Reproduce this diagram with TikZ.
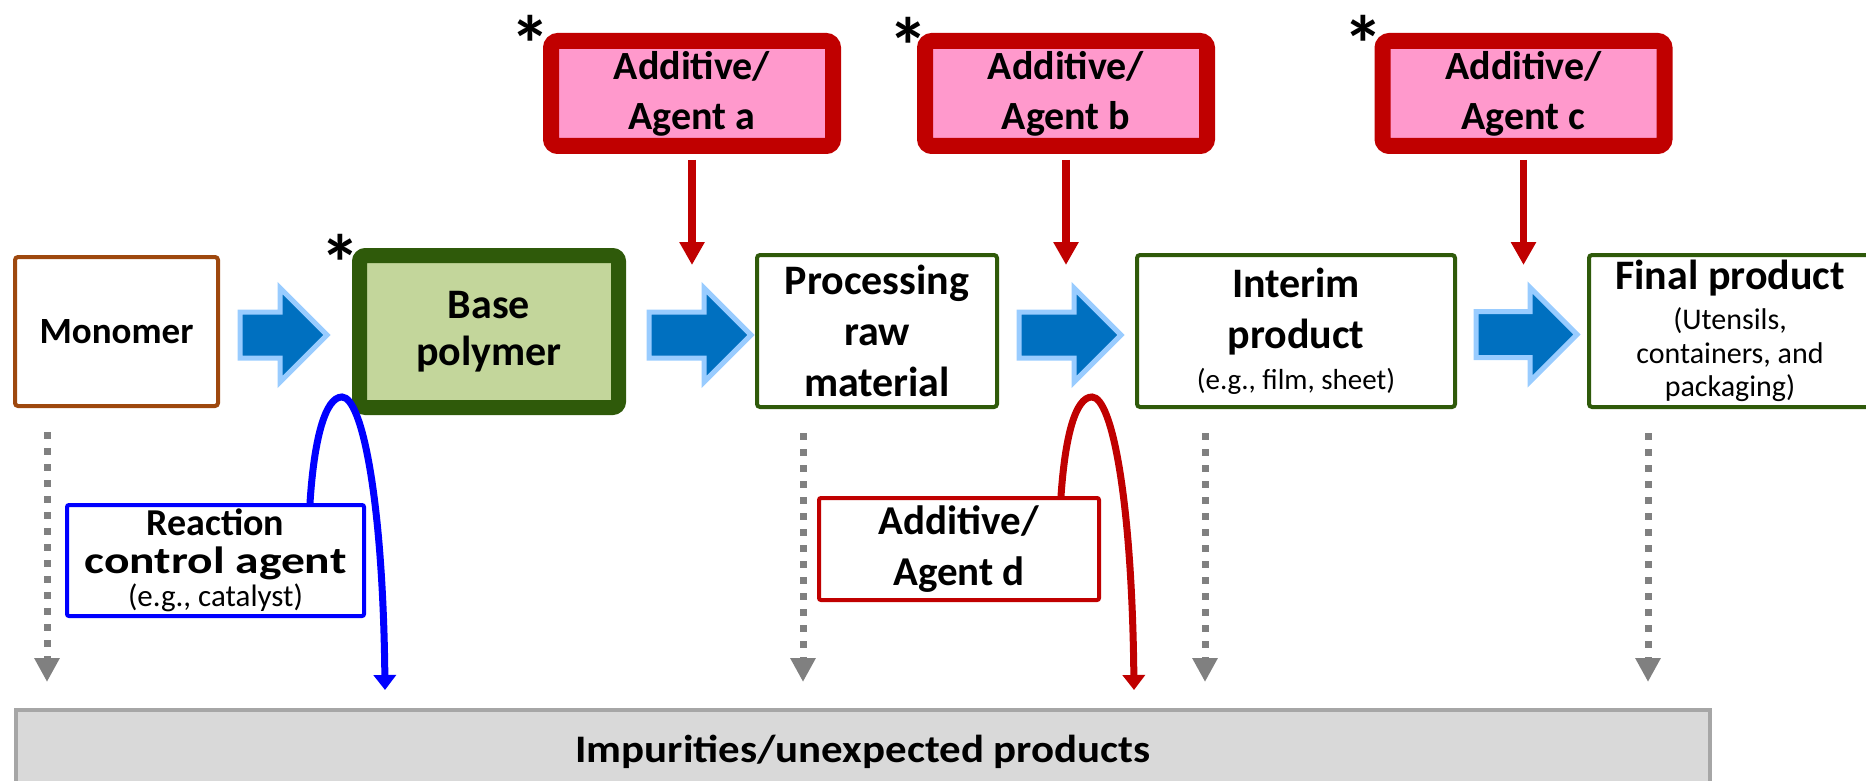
\documentclass[tikz,border=0pt]{standalone}
\usepackage{fontspec}
\setmainfont{Carlito}
\newfontfamily\widefont{Carlito}[FakeStretch=1.25]
\newfontfamily\impfont{Carlito}[FakeStretch=1.1]
\usetikzlibrary{arrows.meta,shapes.arrows}

\definecolor{monobrown}{HTML}{9E480E}
\definecolor{stagegreen}{HTML}{2F5A0A}
\definecolor{polyfill}{HTML}{C3D69B}
\definecolor{addred}{HTML}{C00000}
\definecolor{addpink}{HTML}{FF99CC}
\definecolor{flowblue}{HTML}{0070C0}
\definecolor{flowedge}{HTML}{99CCFF}
\definecolor{catblue}{HTML}{0000FF}
\definecolor{leakgray}{HTML}{808080}
\definecolor{impfill}{HTML}{D9D9D9}
\definecolor{impedge}{HTML}{A6A6A6}

\newcommand\notefont[1]{\mdseries\fontsize{#1}{#1}\selectfont}

\tikzset{
    stage/.style={draw=stagegreen, line width=4pt, rounded corners=3pt, inner sep=0pt,
        align=center, font=\bfseries\fontsize{42}{51}\selectfont},
    additive/.style={draw=addred, fill=addpink, line width=16pt, rounded corners=7pt,
        inner sep=0pt, minimum width=282pt, minimum height=105pt, align=center,
        font=\bfseries\fontsize{40}{50}\selectfont},
    sidebox/.style={line width=4pt, rounded corners=2pt, inner sep=0pt, align=center},
    blockarrow/.style={single arrow, fill=flowblue, draw=flowedge, line width=5pt,
        single arrow head extend=24pt, inner xsep=0pt, inner ysep=20.5pt,
        minimum width=0pt, anchor=tail},
    feed/.style={addred, line width=7.5pt, shorten <=6pt, -{Triangle[width=24pt,length=23pt]}},
    leak/.style={leakgray, line width=7pt, dash pattern=on 7pt off 9pt,
        shorten <=24pt, shorten >=26pt, -{Triangle[width=24pt,length=24pt]}},
    loopline/.style={line width=7pt, -{Triangle[width=22pt,length=15pt]}},
    asttext/.style={font=\bfseries\fontsize{80}{80}\selectfont, inner sep=0pt, anchor=base}
}

\begin{document}
\begin{tikzpicture}[x=1pt,y=-1pt]
    \useasboundingbox (0,0) rectangle (1866,781);

    \node[stage, draw=monobrown, minimum width=203pt, minimum height=149pt,
        font=\bfseries\fontsize{37}{44}\selectfont] (mono) at (116.5,331.5) {Monomer};
    \node[stage, fill=polyfill, line width=15pt, rounded corners=6pt,
        minimum width=259pt, minimum height=152pt] (base) at (489,331.5) {Base\\[-4pt]polymer};
    \node[stage, minimum width=240pt, minimum height=152pt] (proc) at (877,331) {Processing\\raw\\material};
    \node[stage, minimum width=318pt, minimum height=152pt] (inter) at (1296,331)
        {Interim\\product\\[-10pt]{\notefont{29}(e.g., film, sheet)}};
    \node[stage, minimum width=282pt, minimum height=152pt] (final) at (1730,331)
        {Final product\\[-11pt]{\notefont{30}(Utensils,}\\[-17pt]{\notefont{30}containers, and}\\[-18pt]{\notefont{30}packaging)}};

    \node[blockarrow, minimum height=87pt] (ar1) at (237.5,335) {};
    \node[blockarrow, minimum height=102pt] (ar2) at (646.5,335) {};
    \node[blockarrow, minimum height=102pt] (ar3) at (1016.5,335) {};
    \node[blockarrow, minimum height=101pt] (ar4) at (1473.5,334.5) {};

    \node[additive] (adda) at (692,93.5) {Additive/\\Agent a};
    \node[additive] (addb) at (1066,93.5) {Additive/\\Agent b};
    \node[additive] (addc) at (1523.5,93.5) {Additive/\\Agent c};

    \node[asttext] (s0) at (340,291) {*};
    \node[asttext] (s1) at (530,73) {*};
    \node[asttext] (s2) at (908,75) {*};
    \node[asttext] (s3) at (1363,73) {*};

    \coordinate (ta) at (692,265);
    \coordinate (tb) at (1066,265);
    \coordinate (tc) at (1523.5,265);
    \draw[feed] (adda.south) -- (ta);
    \draw[feed] (addb.south) -- (tb);
    \draw[feed] (addc.south) -- (tc);

    \node[sidebox, draw=catblue, minimum width=297pt, minimum height=111pt,
        font=\bfseries\fontsize{38}{38}\selectfont] (rca) at (215.5,560.5)
        {Reaction\\{\widefont control agent}\\[-5pt]{\notefont{31}(e.g., catalyst)}};
    \node[sidebox, draw=addred, minimum width=280pt, minimum height=102pt,
        font=\bfseries\fontsize{41}{51}\selectfont] (addd) at (959,549) {Additive/\\Agent d};

    \node[draw=impedge, fill=impfill, line width=4pt, inner sep=0pt,
        minimum width=1694pt, minimum height=84pt,
        font=\impfont\bfseries\fontsize{39}{46}\selectfont] (imp) at (863,752) {Impurities/unexpected products};

    \coordinate (g1) at (47,0);
    \coordinate (g2) at (803,0);
    \coordinate (g3) at (1205,0);
    \coordinate (g4) at (1648,0);
    \draw[leak] (mono.south -| g1) -- (imp.north -| g1);
    \draw[leak] (proc.south -| g2) -- (imp.north -| g2);
    \draw[leak] (inter.south -| g3) -- (imp.north -| g3);
    \draw[leak] (final.south -| g4) -- (imp.north -| g4);

    \coordinate (rb) at (385,690);
    \coordinate (rd) at (1134,690);
    \draw[loopline, catblue] ([xshift=94.5pt]rca.north) .. controls +(4,-63) and +(-17,0) .. (342,397)
        .. controls +(20,0) and +(-2,-190) .. (rb);
    \draw[loopline, addred] ([xshift=102pt]addd.north) .. controls +(4,-58) and +(-17,0) .. (1092,397)
        .. controls +(20,0) and +(-2,-190) .. (rd);
\end{tikzpicture}
\end{document}
